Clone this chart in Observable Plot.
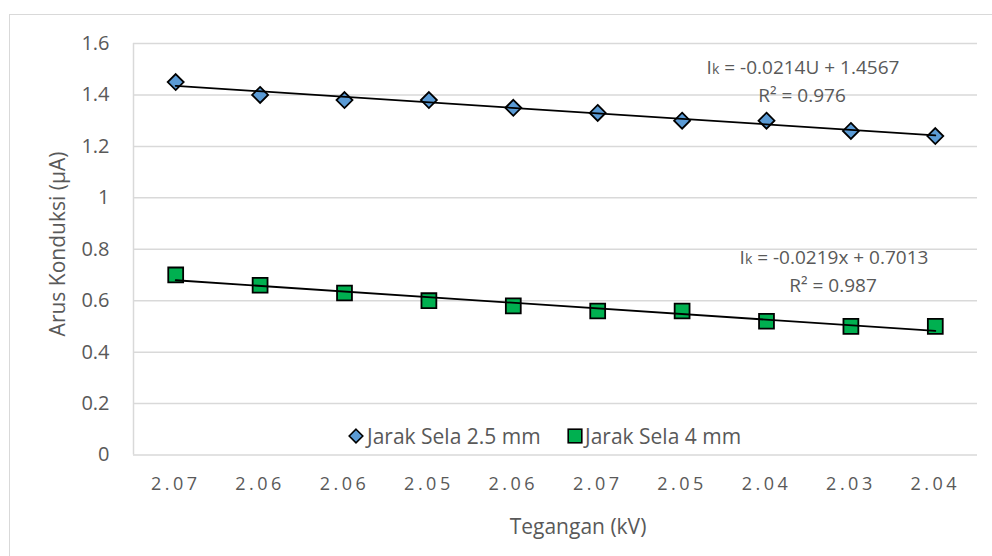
<!DOCTYPE html>
<html>
<head>
<meta charset="utf-8">
<script src="https://cdn.jsdelivr.net/npm/d3@7"></script>
<script src="https://cdn.jsdelivr.net/npm/@observablehq/plot@0.6"></script>
<style>
  html, body { margin: 0; padding: 0; background: #fff; }
  #wrap { position: relative; width: 992px; height: 556px; overflow: hidden; font-family: "Open Sans", sans-serif; color: #595959; }
  #border { position: absolute; left: 9px; top: 14px; width: 1200px; height: 800px; border: 1.5px solid #d9d9d9; box-sizing: border-box; }
  #chart { position: absolute; left: 0; top: 0; }
  #chart svg { display: block; background: transparent; }
  g[aria-label="x-axis tick label"] text { letter-spacing: 3.5px; }
  .lbl { position: absolute; white-space: nowrap; line-height: 1; transform: translate(-50%, -50%); }
  .sub { font-size: 0.74em; }
  .legend { position: absolute; top: 436px; font-size: 21px; line-height: 1; transform: translateY(-50%); white-space: nowrap; }
  .sym { position: absolute; top: 436px; transform: translate(-50%, -50%); }
</style>
</head>
<body>
<div id="wrap">
  <div id="border"></div>
  <div id="chart"></div>
</div>
<script>
// ---- data ----
const categories = ["2.07", "2.06", "2.06", "2.05", "2.06", "2.07", "2.05", "2.04", "2.03", "2.04"];
const sela25 = [1.45, 1.40, 1.38, 1.38, 1.35, 1.33, 1.30, 1.30, 1.26, 1.24];
const sela4 = [0.70, 0.66, 0.63, 0.60, 0.58, 0.56, 0.56, 0.52, 0.50, 0.50];
const yTicks = [0, 0.2, 0.4, 0.6, 0.8, 1.0, 1.2, 1.4, 1.6];
const seriesNames = ["Jarak Sela 2.5 mm", "Jarak Sela 4 mm"];
const equations = [
  { lead: "I", sub: "k", rest: " = -0.0214U + 1.4567", r2: "R² = 0.976" },
  { lead: "I", sub: "k", rest: " = -0.0219x + 0.7013", r2: "R² = 0.987" }
];
const xTitle = "Tegangan (kV)";
const yTitle = "Arus Konduksi (µA)";

const xDomain = [0.5, categories.length + 0.5];
const rows25 = sela25.map((v, i) => ({ i: i + 1, v }));
const rows4 = sela4.map((v, i) => ({ i: i + 1, v }));

const blue = "#5B9BD5", green = "#00B050";

const chart = Plot.plot({
  width: 992,
  height: 556,
  marginLeft: 133,
  marginRight: 15,
  marginTop: 43,
  marginBottom: 101.5,
  x: { domain: xDomain, axis: null },
  y: { domain: [0, 1.6], axis: null },
  style: { fontFamily: "Open Sans, sans-serif", background: "transparent", overflow: "visible" },
  marks: [
    Plot.ruleY(yTicks, { stroke: "#d9d9d9", strokeWidth: 1.5 }),
    Plot.ruleX([xDomain[0]], { stroke: "#d9d9d9", strokeWidth: 1.5 }),
    Plot.axisY({
      ticks: yTicks, tickSize: 0, tickPadding: 24, fontSize: 20, fill: "#595959",
      tickFormat: d => String(Math.round(d * 10) / 10), label: null
    }),
    Plot.axisX({
      ticks: categories.map((_, i) => i + 1), tickSize: 0, tickPadding: 22, fontSize: 18, fill: "#595959",
      tickFormat: i => categories[i - 1], label: null
    }),
    Plot.dot(rows25, { x: "i", y: "v", symbol: d3.symbolDiamond2, r: 7.2, fill: blue, stroke: "#000", strokeWidth: 1.8 }),
    Plot.dot(rows4, { x: "i", y: "v", symbol: d3.symbolSquare, r: 8.4, fill: green, stroke: "#000", strokeWidth: 1.8 }),
    Plot.linearRegressionY(rows25, { x: "i", y: "v", stroke: "#000", strokeWidth: 1.8, ci: 0 }),
    Plot.linearRegressionY(rows4, { x: "i", y: "v", stroke: "#000", strokeWidth: 1.8, ci: 0 })
  ]
});
document.getElementById("chart").appendChild(chart);

const wrap = document.getElementById("wrap");
function addLabel(html, x, y, size, extra) {
  const d = document.createElement("div");
  d.className = "lbl";
  d.style.left = x + "px";
  d.style.top = y + "px";
  d.style.fontSize = size + "px";
  if (extra) d.style.transform = extra;
  d.innerHTML = html;
  wrap.appendChild(d);
  return d;
}
// equations
const eqPos = [[803, 67, 802, 95], [834, 257, 833, 285]];
equations.forEach((e, k) => {
  const p = eqPos[k];
  addLabel(`${e.lead}<span class="sub">${e.sub}</span>${e.rest}`, p[0], p[1], 19);
  addLabel(e.r2, p[2], p[3], 19);
});
// axis titles
addLabel(xTitle, 578, 526, 21);
addLabel(yTitle, 57, 244, 21, "translate(-50%, -50%) rotate(-90deg)");

// legend
function addSym(svgInner, x, w) {
  const d = document.createElement("div");
  d.className = "sym";
  d.style.left = x + "px";
  d.innerHTML = `<svg width="${w}" height="${w}" viewBox="${-w/2} ${-w/2} ${w} ${w}" style="display:block">${svgInner}</svg>`;
  wrap.appendChild(d);
}
addSym(`<path d="M0,-6.8L6.8,0L0,6.8L-6.8,0Z" fill="${blue}" stroke="#000" stroke-width="1.6"/>`, 356, 18);
addSym(`<rect x="-6.8" y="-6.8" width="13.6" height="13.6" fill="${green}" stroke="#000" stroke-width="1.6"/>`, 574.5, 18);
[[seriesNames[0], 367], [seriesNames[1], 585]].forEach(([t, x]) => {
  const d = document.createElement("div");
  d.className = "legend";
  d.style.left = x + "px";
  d.textContent = t;
  wrap.appendChild(d);
});
</script>
</body>
</html>
